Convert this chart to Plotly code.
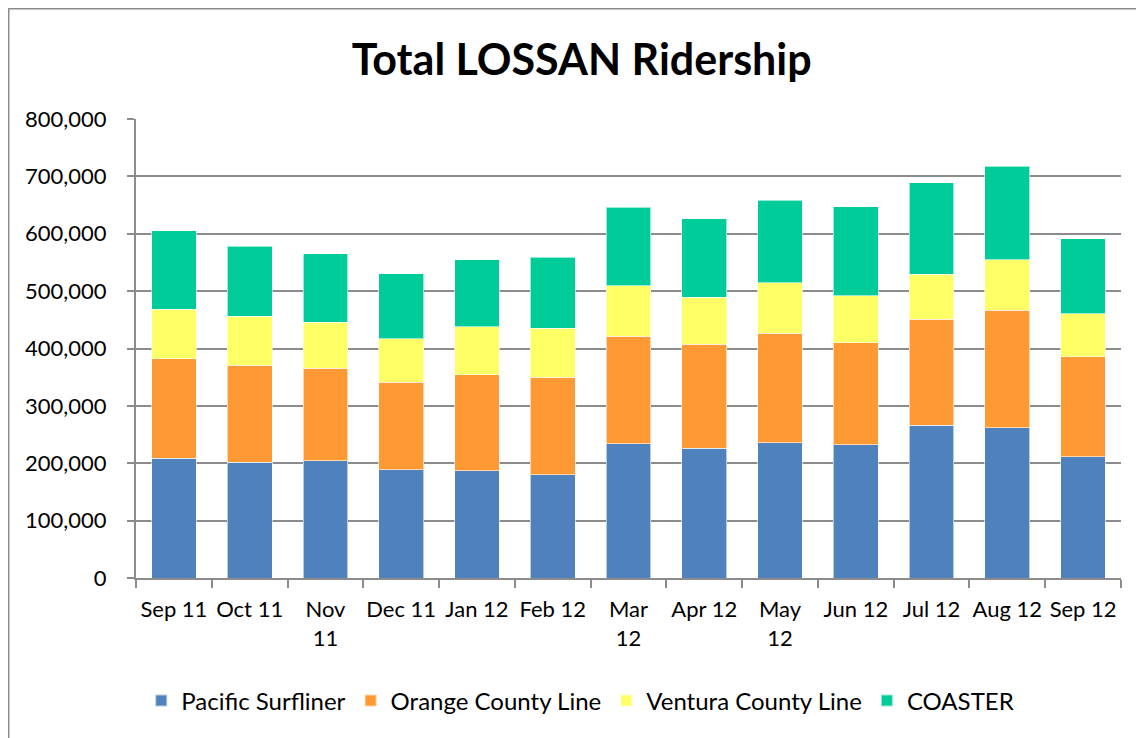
import plotly.graph_objects as go

months = ["Sep 11", "Oct 11", "Nov 11", "Dec 11", "Jan 12", "Feb 12", "Mar 12",
          "Apr 12", "May 12", "Jun 12", "Jul 12", "Aug 12", "Sep 12"]
tick_labels = ["Sep 11", "Oct 11", "Nov<br>11", "Dec 11", "Jan 12", "Feb 12", "Mar<br>12",
               "Apr 12", "May<br>12", "Jun 12", "Jul 12", "Aug 12", "Sep 12"]

pacific_surfliner = [209000, 202000, 204000, 189000, 187000, 180000, 234000,
                     226000, 236000, 232000, 266000, 262000, 211000]
orange_county = [173000, 169000, 162000, 152000, 167000, 170000, 187000,
                 181000, 191000, 178000, 185000, 205000, 175000]
ventura_county = [86000, 85000, 80000, 76000, 84000, 85000, 88000,
                  82000, 88000, 82000, 78000, 88000, 75000]
coaster = [137000, 122000, 119000, 113000, 117000, 124000, 137000,
           137000, 143000, 155000, 160000, 163000, 130000]

series = [
    ("Pacific Surfliner", pacific_surfliner, "#4F81BD"),
    ("Orange County Line", orange_county, "#FF9933"),
    ("Ventura County Line", ventura_county, "#FFFF66"),
    ("COASTER", coaster, "#00CC99"),
]

FONT = "Lato"
fig = go.Figure()
for name, vals, color in series:
    fig.add_trace(go.Bar(
        x=months, y=vals, name=name,
        marker=dict(color=color, line=dict(color="rgba(255,255,255,0.6)", width=1)),
    ))

grid = "#8C8C8C"
fig.update_layout(
    barmode="stack",
    bargap=0.41,
    width=1136, height=730,
    margin=dict(l=128, r=23, t=111, b=160),
    paper_bgcolor="white",
    plot_bgcolor="white",
    font=dict(family=FONT, size=22, color="black"),
    title=dict(text="<b>Total LOSSAN Ridership</b>", x=0.505, xanchor="center",
               y=0.929, yanchor="middle",
               font=dict(family=FONT, size=43, color="black")),
    legend=dict(orientation="h", x=0.451, xanchor="center", y=-0.268, yanchor="middle",
                font=dict(family=FONT, size=24), traceorder="normal",
                itemsizing="constant"),
    showlegend=True,
)
fig.update_xaxes(
    type="category",
    tickmode="array", tickvals=months, ticktext=tick_labels,
    tickson="boundaries", ticks="outside", ticklen=8, tickcolor=grid, tickwidth=2,
    showline=True, linecolor=grid, linewidth=2,
    showgrid=False, tickfont=dict(family=FONT, size=22),
    tickangle=0, ticklabelstandoff=11,
)
fig.update_yaxes(
    range=[0, 800000], dtick=100000, tickformat=",d",
    ticks="outside", ticklen=7, tickcolor=grid, tickwidth=2,
    showline=True, linecolor=grid, linewidth=2,
    showgrid=True, gridcolor=grid, gridwidth=2,
    tickfont=dict(family=FONT, size=22), zeroline=False,
    ticklabelstandoff=16,
)
fig.add_shape(type="rect", xref="paper", yref="paper",
              x0=-0.1292, x1=1.05, y0=-0.4, y1=1.2402,
              line=dict(color="#8C8C8C", width=1.5), fillcolor="rgba(0,0,0,0)", layer="below")

fig.write_html("out.html")
